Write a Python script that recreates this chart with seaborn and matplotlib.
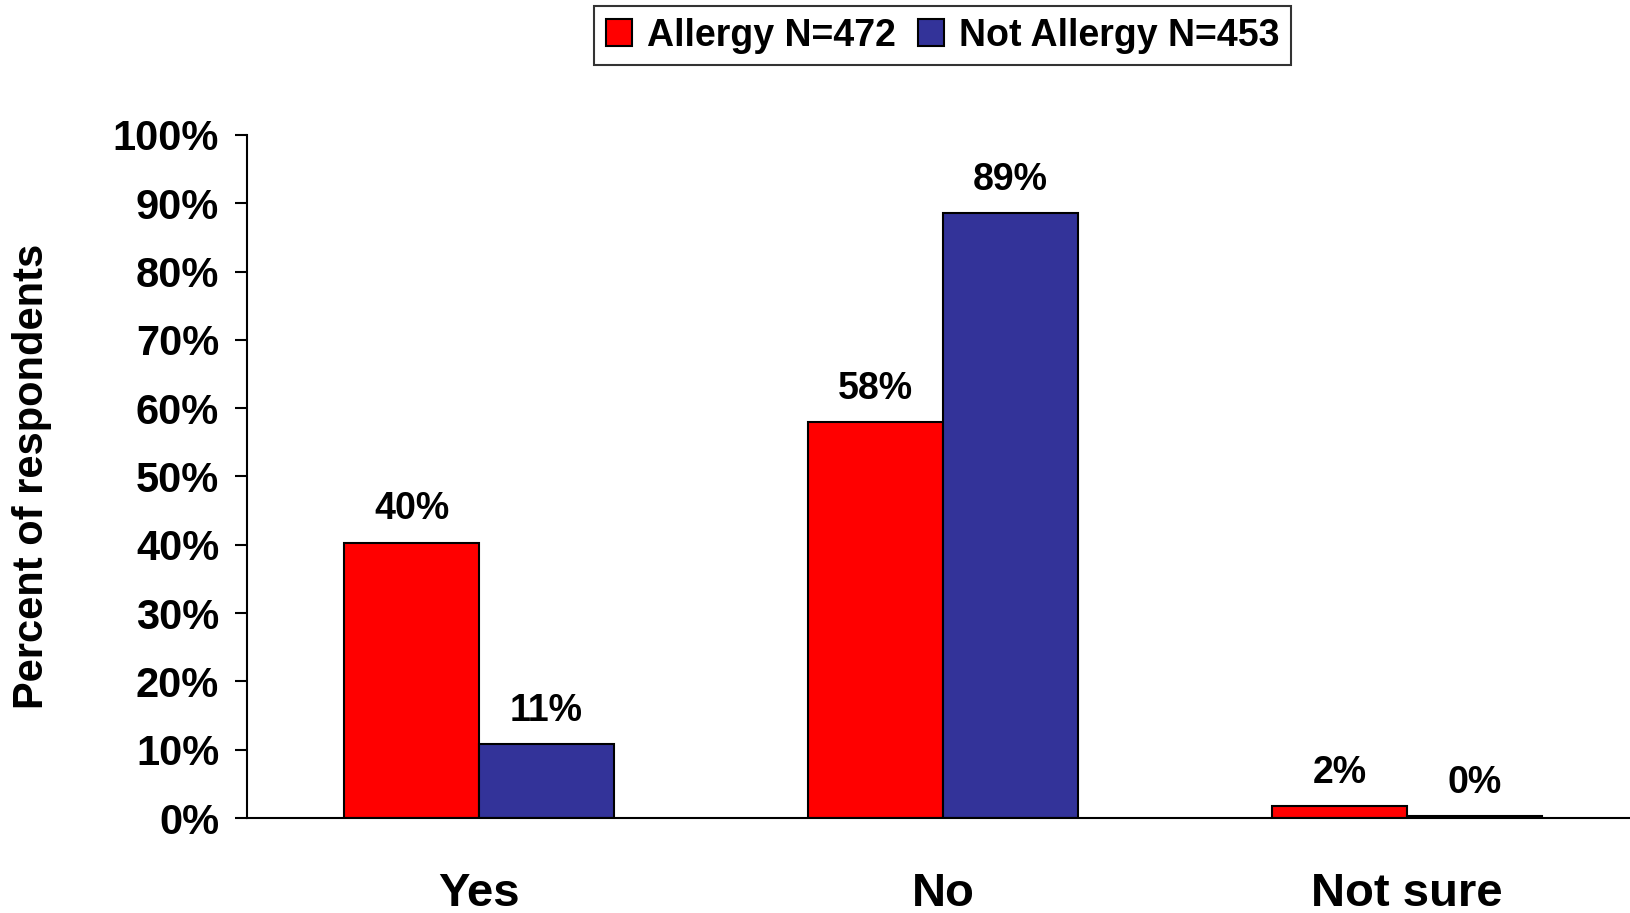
import numpy as np
import pandas as pd
import matplotlib
matplotlib.use("Agg")
import matplotlib.pyplot as plt
import seaborn as sns

# data
categories = ["Yes", "No", "Not sure"]
groups = ["Allergy N=472", "Not Allergy N=453"]
allergy = [40.3, 58.0, 1.7]
not_allergy = [10.8, 88.6, 0.3]
colors = ["#FF0000", "#333399"]
yticks = list(range(0, 101, 10))

sns.set_theme(style="white")
plt.rcParams["font.family"] = ["Liberation Sans", "DejaVu Sans"]
plt.rcParams["font.weight"] = "bold"
plt.rcParams["text.color"] = "black"
plt.rcParams["axes.labelcolor"] = "black"
plt.rcParams["xtick.color"] = "black"
plt.rcParams["ytick.color"] = "black"

df = pd.DataFrame({
    "category": categories * 2,
    "group": [groups[0]] * 3 + [groups[1]] * 3,
    "value": allergy + not_allergy,
})

fig = plt.figure(figsize=(16.31, 9.13), dpi=100)
ax = fig.add_axes([247 / 1631, 95 / 913, 1392 / 1631, 683 / 913])

sns.barplot(data=df, x="category", y="value", hue="group", order=categories,
            hue_order=groups, palette=colors, width=0.58, saturation=1,
            edgecolor="black", linewidth=1.5, errorbar=None, ax=ax)

for cont in ax.containers:
    ax.bar_label(cont, labels=[f"{v:.0f}%" for v in cont.datavalues],
                 padding=11, fontsize=27, fontweight="bold", color="black")

ax.set_ylim(0, 100)
ax.set_xlim(-0.5, 2.5)
ax.set_yticks(yticks)
ax.set_yticklabels([f"{t}%" for t in yticks], fontsize=30, fontweight="bold")
ax.tick_params(axis="y", left=True, direction="out", length=9, width=1.5,
               pad=11, color="black")
ax.tick_params(axis="x", bottom=False, pad=33, labelsize=34)
for lab in ax.get_xticklabels():
    lab.set_fontweight("bold")

ax.set_xlabel("")
ax.set_ylabel("Percent of respondents", fontsize=30, fontweight="bold")
ax.yaxis.set_label_coords(-0.14, 0.5)

sns.despine(ax=ax, top=True, right=True)
for sp in ["left", "bottom"]:
    ax.spines[sp].set_color("black")
    ax.spines[sp].set_linewidth(1.5)

ax.legend_.remove()
handles = [plt.Rectangle((0, 0), 1, 1, facecolor=c, edgecolor="black", linewidth=1.5)
           for c in colors]
leg = fig.legend(handles, groups, loc="center", bbox_to_anchor=(0.578, 0.961),
                 ncol=2, frameon=True, fancybox=False,
                 prop={"weight": "bold", "size": 27},
                 handlelength=0.7, handleheight=0.7, handletextpad=0.4,
                 columnspacing=0.6, borderpad=0.3)
leg.get_frame().set_edgecolor("black")
leg.get_frame().set_linewidth(1.5)

fig.savefig("out.png", dpi=100)
